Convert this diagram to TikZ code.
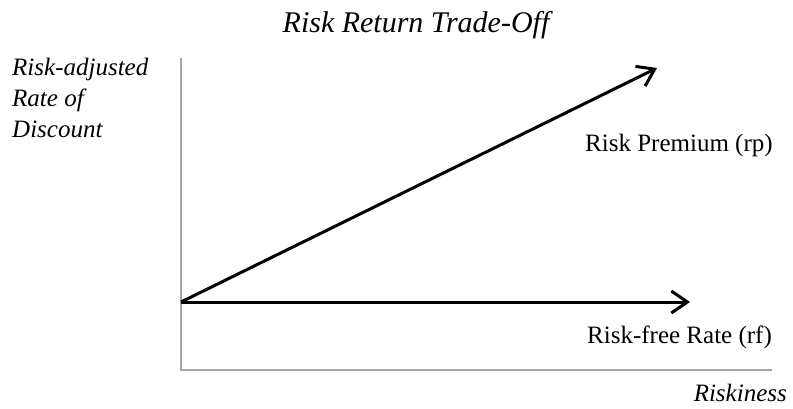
\documentclass[tikz,border=0pt]{standalone}
\usepackage{fontspec}
\setmainfont{Liberation Serif}
\usepackage{xcolor}
\definecolor{AxisGrey}{RGB}{165,165,165}
\usetikzlibrary{arrows.meta}

\begin{document}
\begin{tikzpicture}[x=1pt, y=-1pt,
    axisline/.style={AxisGrey, line width=1.6pt},
    riskarrow/.style={black, line width=3pt, -{Straight Barb[length=16pt, width=22pt]}},
    lbl/.style={font=\fontsize{25}{30}\selectfont, inner sep=0pt, anchor=west},
    axlbl/.style={font=\fontsize{25}{31}\selectfont\itshape, inner sep=0pt}]
    \useasboundingbox (0,0) rectangle (793,408);

    % Axes
    \coordinate (yTop) at (181,58);
    \coordinate (corner) at (181,370);
    \coordinate (xEnd) at (772,370);
    \draw[axisline] (yTop) -- (corner) -- (xEnd);

    % Title and axis labels
    \node[font=\fontsize{30}{36}\selectfont\itshape, inner sep=0pt] (title) at (416,25) {Risk Return Trade-Off};
    \node[axlbl, anchor=north west, align=left] (yLabel) at (12,58) {Risk-adjusted\\Rate of\\Discount};
    \node[axlbl, anchor=east] (xLabel) at (787,393) {Riskiness};

    % Trade-off lines
    \coordinate (origin) at (181,302);
    \coordinate (rpEnd) at (657,68);
    \coordinate (rfEnd) at (690,302);
    \draw[riskarrow] (origin) -- (rpEnd);
    \draw[riskarrow] (origin) -- (rfEnd);

    \node[lbl] (rpLabel) at (585,145) {Risk Premium (rp)};
    \node[lbl] (rfLabel) at (587,337) {Risk-free Rate (rf)};
\end{tikzpicture}
\end{document}
